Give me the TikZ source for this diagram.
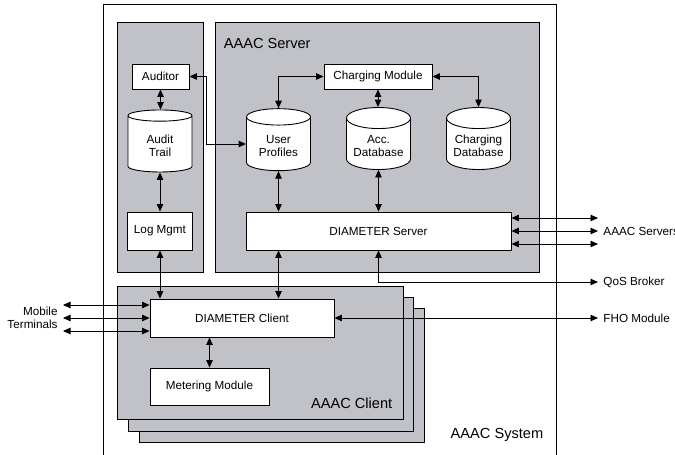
\documentclass[tikz,border=0pt]{standalone}
\usepackage{fontspec}
\setmainfont{Liberation Sans}
\usetikzlibrary{positioning,shapes.geometric,arrows.meta}
\definecolor{panelgray}{RGB}{192,194,200}

\begin{document}
\begin{tikzpicture}[x=1pt,y=-1pt,line width=0.9pt,font=\fontsize{11.7}{13.5}\selectfont,
panel/.style={draw,fill=panelgray},
box/.style={draw,fill=white,align=center,inner sep=0pt},
db/.style={draw,fill=white,cylinder,shape border rotate=90,aspect=0.42,minimum width=64pt,minimum height=62pt,align=center,inner sep=0pt},
link/.style={{Triangle[length=7.5pt,width=6.5pt]}-{Triangle[length=7.5pt,width=6.5pt]}},
big/.style={font=\fontsize{14.6}{16}\selectfont}]
\useasboundingbox (0,0) rectangle (675,455);
\draw (103,456) -- (103,4) -- (556,4) -- (556,456);
\node[big,anchor=south east] (sysl) at (547,445) {AAAC System};
\draw[panel] (117,22) rectangle (203,272);
\draw[panel] (215,22) rectangle (539,272);
\node[big,anchor=west] (srvl) at (220,43) {AAAC Server};
\draw[panel] (139,308) rectangle (424,442);
\draw[panel] (128,297) rectangle (413,431);
\draw[panel] (117,286) rectangle (403,419);
\node[big,anchor=east] (clil) at (396,403) {AAAC Client};
\node[box,minimum width=57pt,minimum height=25pt] (aud) at (160.5,76.5) {Auditor};
\node[db] (trail) at (160,144) {\mbox{}\\[-1pt]Audit\\Trail};
\node[box,minimum width=65pt,minimum height=38pt] (log) at (160,231) {Log Mgmt};
\node[box,minimum width=108pt,minimum height=25pt] (chg) at (378,76.5) {Charging Module};
\node[db] (prof) at (278.5,144) {\mbox{}\\[-1pt]User\\Profiles};
\node[db] (acc) at (378.5,144) {\mbox{}\\[-1pt]Acc.\\Database};
\node[db] (cdb) at (478.5,144) {\mbox{}\\[-1pt]Charging\\Database};
\node[box,minimum width=265pt,minimum height=38pt] (dsrv) at (378.5,231) {DIAMETER Server};
\node[box,minimum width=184pt,minimum height=38pt] (dcl) at (242,318) {DIAMETER Client};
\node[box,minimum width=119pt,minimum height=37pt] (met) at (209.5,386.5) {Metering Module};
\coordinate (srv) at (598,231);
\coordinate (qos) at (598,282);
\coordinate (fho) at (598,318);
\coordinate (mob) at (63,318);
\node[anchor=west,inner sep=0pt] (srvt) at ([xshift=5pt]srv) {AAAC Servers};
\node[anchor=west,inner sep=0pt] (qost) at ([xshift=5pt]qos) {QoS Broker};
\node[anchor=west,inner sep=0pt] (fhot) at ([xshift=5pt]fho) {FHO Module};
\node[anchor=east,align=right,inner sep=0pt,font=\fontsize{11.7}{12.5}\selectfont] (mobt) at ([xshift=-5pt]mob) {Mobile\\Terminals};
\draw[link] (aud.south) -- (aud.south |- trail.north);
\draw[link] (trail.south) -- (trail.south |- log.north);
\draw[link] (log.south) -- (log.south |- dcl.north);
\draw[link] (aud.east) -| ([xshift=-40pt]prof.west) -- (prof.west);
\draw[link] (chg.west) -| (prof.north);
\draw[link] (chg.east) -| (cdb.north);
\draw[link] (chg.south) -- (chg.south |- acc.north);
\draw[link] (prof.south) -- (prof.south |- dsrv.north);
\draw[link] (acc.south) -- (acc.south |- dsrv.north);
\draw[link] (prof.south |- dsrv.south) -- (prof.south |- dcl.north);
\draw[link] (dsrv.south) |- (qos);
\foreach \dy in {-13,0,13}
\draw[link] ([yshift=\dy pt]dsrv.east) -- ([yshift=\dy pt]srv);
\draw[link] (dcl.east) -- (fho);
\foreach \dy in {-13,0,13}
\draw[link] ([yshift=\dy pt]mob) -- ([yshift=\dy pt]dcl.west);
\draw[link] (met.north) -- (met.north |- dcl.south);
\end{tikzpicture}
\end{document}
